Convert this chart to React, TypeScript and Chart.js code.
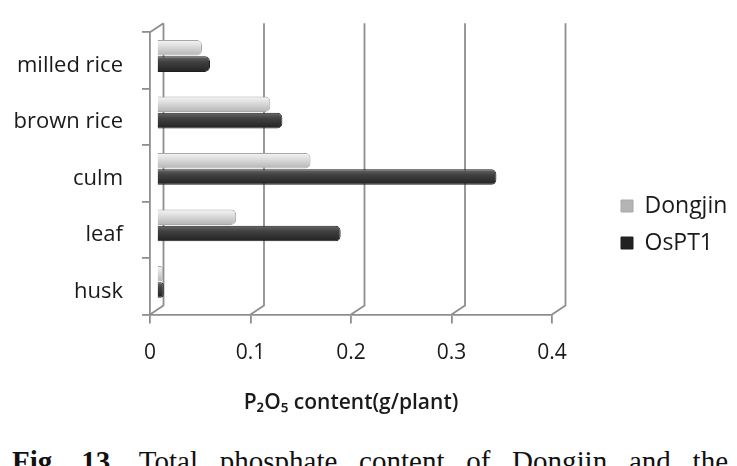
import React, { useEffect, useRef } from "react";
import { Chart, registerables } from "chart.js";

Chart.register(...registerables);

const categories = ["milled rice", "brown rice", "culm", "leaf", "husk"];
const seriesNames = ["Dongjin", "OsPT1"];
const dongjin = [0.045, 0.113, 0.153, 0.079, 0.006];
const ospt1 = [0.053, 0.125, 0.338, 0.183, 0.007];
const xTicks = [0, 0.1, 0.2, 0.3, 0.4];
const axisTitle = "P\u2082O\u2085 content(g/plant)";
const captionBold = "Fig. 13.";
const captionRest = " Total phosphate content of Dongjin and the";

const DX = 13.5;
const DY = -9;
const CAT_PCT = 0.58;
const BAR_PCT = 0.95;
const LINE = "#8e8e8e";
const FONT = "'Open Sans', 'Noto Sans', sans-serif";

const lightStops = ["#f6f6f6", "#e0e0e0", "#b4b4b4"];
const darkStops = ["#686868", "#414141", "#222222"];

function barFill(ctx: any, stops: string[], solid: string) {
  const chart = ctx.chart;
  const ys = chart.scales && chart.scales.y;
  if (ctx.type !== "data" || !ys || !ys.height) return solid;
  const n = categories.length;
  const band = ys.height / n;
  const catSize = band * CAT_PCT;
  const chunk = catSize / 2;
  const center = ys.getPixelForValue(ctx.dataIndex) - catSize / 2 + chunk * (ctx.datasetIndex + 0.5);
  const half = (chunk * BAR_PCT) / 2;
  const g = chart.ctx.createLinearGradient(0, center - half, 0, center + half);
  g.addColorStop(0, stops[0]);
  g.addColorStop(0.35, stops[1]);
  g.addColorStop(1, stops[2]);
  return g;
}

const frame3d = {
  id: "frame3d",
  beforeDatasetsDraw(chart: any) {
    const { ctx, chartArea } = chart;
    const xs = chart.scales.x;
    ctx.save();
    ctx.strokeStyle = LINE;
    ctx.lineWidth = 1.8;
    ctx.beginPath();
    for (const v of xTicks) {
      const x = xs.getPixelForValue(v);
      ctx.moveTo(x, chartArea.bottom);
      ctx.lineTo(x + DX, chartArea.bottom + DY);
      ctx.lineTo(x + DX, chartArea.top + DY);
    }
    ctx.moveTo(chartArea.left, chartArea.top);
    ctx.lineTo(chartArea.left + DX, chartArea.top + DY);
    ctx.stroke();
    ctx.restore();
    ctx.save();
    ctx.translate(DX / 2, DY / 2);
  },
  afterDatasetsDraw(chart: any) {
    chart.ctx.restore();
  },
};

export default function App() {
  const ref = useRef<HTMLCanvasElement | null>(null);
  useEffect(() => {
    if (!ref.current) return;
    const chart = new Chart(ref.current, {
      type: "bar",
      data: {
        labels: categories,
        datasets: [
          {
            label: seriesNames[0],
            data: dongjin,
            backgroundColor: (c: any) => barFill(c, lightStops, "#d4d4d4"),
            borderColor: "#a8a8a8",
            borderWidth: 1,
            borderRadius: 5,
            borderSkipped: "start",
            categoryPercentage: CAT_PCT,
            barPercentage: BAR_PCT,
          },
          {
            label: seriesNames[1],
            data: ospt1,
            backgroundColor: (c: any) => barFill(c, darkStops, "#404040"),
            borderColor: "#1e1e1e",
            borderWidth: 1,
            borderRadius: 5,
            borderSkipped: "start",
            categoryPercentage: CAT_PCT,
            barPercentage: BAR_PCT,
          },
        ],
      },
      options: {
        indexAxis: "y",
        animation: false,
        responsive: false,
        layout: { padding: { top: 29, bottom: 14, left: 0, right: 0 } },
        plugins: {
          tooltip: { enabled: false },
          legend: {
            position: "right",
            align: "center",
            maxWidth: 130,
            labels: {
              boxWidth: 12,
              boxHeight: 12,
              padding: 14,
              color: "#1a1a1a",
              font: { family: FONT, size: 23 },
            },
          },
        },
        scales: {
          x: {
            type: "linear",
            min: 0,
            max: 0.4,
            grid: {
              drawOnChartArea: false,
              drawTicks: true,
              tickLength: 9,
              color: LINE,
              lineWidth: 1.8,
            },
            border: { display: true, color: LINE, width: 1.8 },
            afterBuildTicks: (s: any) => {
              s.ticks = xTicks.map((v) => ({ value: v }));
            },
            ticks: {
              color: "#1a1a1a",
              padding: 17,
              font: { family: FONT, size: 21 },
            },
            title: {
              display: true,
              text: axisTitle,
              color: "#1a1a1a",
              font: { family: FONT, size: 21, weight: "600" },
              padding: { top: 8, bottom: 4 },
            },
          },
          y: {
            type: "category",
            grid: {
              offset: true,
              drawOnChartArea: false,
              drawTicks: true,
              tickLength: 8,
              color: LINE,
              lineWidth: 1.8,
            },
            border: { display: true, color: LINE, width: 1.8 },
            ticks: {
              color: "#1a1a1a",
              padding: 19,
              labelOffset: 5,
              font: { family: FONT, size: 22 },
            },
            afterFit: (s: any) => {
              s.width = 150;
            },
          },
          y2: {
            type: "linear",
            axis: "y",
            position: "right",
            display: true,
            grid: { display: false },
            border: { display: false },
            ticks: { display: false },
            afterFit: (s: any) => {
              s.width = 55;
            },
          },
        },
      },
      plugins: [frame3d],
    } as any);
    return () => chart.destroy();
  }, []);

  return (
    <div
      style={{
        position: "absolute",
        left: 0,
        top: 0,
        width: 737,
        height: 466,
        overflow: "hidden",
        background: "#ffffff",
      }}
    >
      <canvas ref={ref} width={737} height={434} style={{ display: "block" }} />
      <div
        style={{
          position: "absolute",
          left: 12,
          top: 445,
          width: 716,
          fontFamily: "'Liberation Serif', 'DejaVu Serif', serif",
          fontSize: 29,
          lineHeight: "normal",
          color: "#111",
          textAlign: "justify",
          textAlignLast: "justify",
          whiteSpace: "normal",
        }}
      >
        <b>{captionBold}</b>
        {captionRest}
      </div>
    </div>
  );
}
